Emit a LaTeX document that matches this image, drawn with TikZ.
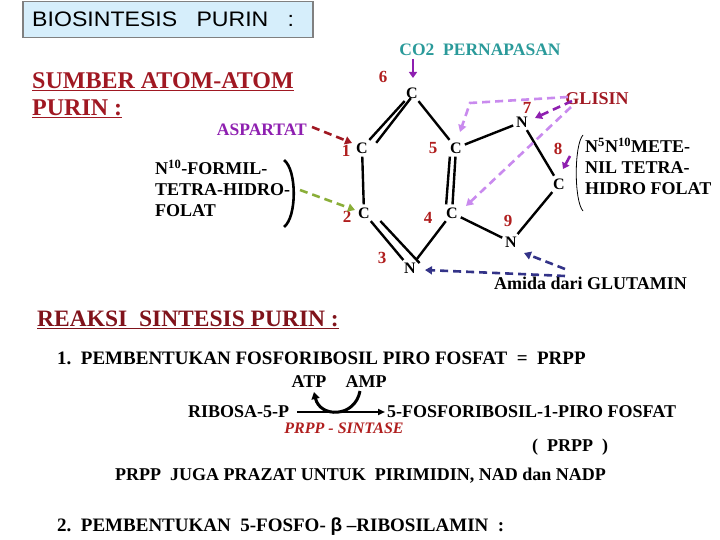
\documentclass[tikz,border=0pt]{standalone}
\usepackage{fontspec}
\setmainfont{Liberation Serif}
\newfontfamily\arialf{Liberation Sans}
\usetikzlibrary{arrows.meta}
\definecolor{dred}{HTML}{A01822}
\definecolor{numred}{HTML}{B01E1E}
\definecolor{purp}{HTML}{8E1FB0}
\definecolor{lvio}{HTML}{C98AEE}
\definecolor{teal2}{HTML}{2A9A9A}
\definecolor{navy2}{HTML}{333388}
\definecolor{grn}{HTML}{8AAE38}
\definecolor{boxblue}{HTML}{D6EEFB}
\tikzset{
 atom/.style={font=\bfseries\fontsize{16}{16}\selectfont, inner sep=1pt},
 num/.style={font=\bfseries\fontsize{17}{17}\selectfont, text=numred, inner sep=0pt},
 bond/.style={line width=2.4pt, shorten <=2pt, shorten >=2pt},
 darr/.style={line width=2.6pt, dash pattern=on 8pt off 5pt, -{Triangle[length=7pt,width=8pt]}},
 txt/.style={font=\bfseries\fontsize{18}{21}\selectfont, inner sep=0pt, align=left},
}
\begin{document}
\begin{tikzpicture}[x=1pt,y=-1pt]
\useasboundingbox (0,0) rectangle (720,540);
% title
\node[draw=gray, line width=1.5pt, fill=boxblue, minimum width=290pt, minimum height=36pt, anchor=north west, inner sep=0pt] (title) at (22,1) {};
\node[font=\arialf\fontsize{21}{21}\selectfont, anchor=west, inner sep=0pt, xscale=1.1] (titlet) at (32,19) {BIOSINTESIS\ \ \ PURIN\ \ \ :};
% left header
\node[font=\bfseries\fontsize{24}{27}\selectfont, text=dred, anchor=north west, align=left, inner sep=0pt] (sumber) at (32,72) {\underline{SUMBER ATOM-ATOM}\\\underline{PURIN :}};
% atoms
\node[atom] (c6) at (412,93) {C};
\node[atom] (c1) at (362,148) {C};
\node[atom] (c5) at (456,148) {C};
\node[atom] (c2) at (364,213) {C};
\node[atom] (c4) at (452,213) {C};
\node[atom] (n3) at (410,268) {N};
\node[atom] (n7) at (522,122) {N};
\node[atom] (c8) at (559,184) {C};
\node[atom] (n9) at (511,242) {N};
% bonds
\draw[bond] (c6) -- (c1);
\draw[bond] ([shift={(7pt,3pt)}]c6.south west) -- ([shift={(6pt,-3pt)}]c1.north east);
\draw[bond] (c1) -- (c2);
\draw[bond] (c2) -- (n3);
\draw[bond] ([shift={(8pt,0pt)}]c2.south east) -- ([shift={(4pt,-3pt)}]n3.north east);
\draw[bond] (n3) -- (c4);
\draw[bond] (c4) -- (c5);
\draw[bond] ([xshift=-6pt]c4.north) -- ([xshift=-6pt]c5.south);
\draw[bond] (c5) -- (c6);
\draw[bond] (c5) -- (n7);
\draw[bond] (n7) -- (c8);
\draw[bond] (c8) -- (n9);
\draw[bond] (n9) -- (c4);
% numbers
\node[num] (l6) at (383,77) {6};
\node[num] (l1) at (346,151) {1};
\node[num] (l5) at (433,148) {5};
\node[num] (l2) at (347,217) {2};
\node[num] (l4) at (428,218) {4};
\node[num] (l3) at (382,258) {3};
\node[num] (l7) at (527,108) {7};
\node[num] (l8) at (558,149) {8};
\node[num] (l9) at (508,221) {9};
% source labels
\node[font=\bfseries\fontsize{17.5}{17.5}\selectfont, text=teal2, inner sep=0pt] (co2) at (480,50) {CO2\ \ PERNAPASAN};
\node[font=\bfseries\fontsize{18}{18}\selectfont, text=dred, inner sep=0pt] (gly) at (597,99) {GLISIN};
\node[font=\bfseries\fontsize{17.5}{17.5}\selectfont, text=purp, anchor=east, inner sep=0pt] (asp) at (307,130) {ASPARTAT};
\node[txt, anchor=north west] (form) at (155,160) {N\textsuperscript{10}-FORMIL-\\TETRA-HIDRO-\\FOLAT};
\node[txt, anchor=north west] (mete) at (585,138) {N\textsuperscript{5}N\textsuperscript{10}METE-\\NIL TETRA-\\HIDRO FOLAT};
\node[txt, anchor=north west] (glut) at (494,277) {Amida dari GLUTAMIN};
% brackets
\coordinate (b1) at (284,160); \coordinate (b2) at (284,227);
\draw[line width=2.6pt] (b1) .. controls (297,170) and (297,217) .. (b2);
\coordinate (b3) at (583,135); \coordinate (b4) at (583,211);
\draw[line width=0.8pt] (b3) .. controls (574,145) and (574,201) .. (b4);
% arrows
\coordinate (a1) at (312,127); \coordinate (a2) at (352,143);
\draw[darr, dred] (a1) -- (a2);
\coordinate (g1) at (300,190); \coordinate (g2) at (355,210);
\draw[darr, grn] (g1) -- (g2);
\coordinate (co2b) at (413,59); \coordinate (co2e) at (413,78);
\draw[line width=2.6pt, purp, -{Triangle[length=6pt,width=8pt]}] (co2b) -- (co2e);
\coordinate (gl1) at (572,101); \coordinate (gl2) at (535,118);
\draw[darr, purp] (gl1) -- (gl2);
\coordinate (v1) at (568,97); \coordinate (v2) at (470,103); \coordinate (v3) at (460,132);
\draw[darr, lvio] (v1) -- (v2) -- (v3);
\coordinate (w1) at (571,107); \coordinate (w2) at (466,206);
\draw[darr, lvio] (w1) -- (w2);
\coordinate (m1) at (570,156); \coordinate (m2) at (563,169);
\draw[line width=2.6pt, purp, -{Triangle[length=6pt,width=8pt]}] (m1) -- (m2);
\coordinate (u1) at (565,269); \coordinate (u2) at (524,253);
\draw[darr, navy2] (u1) -- (u2);
\coordinate (u3) at (565,276); \coordinate (u4) at (425,270);
\draw[darr, navy2] (u3) .. controls (520,274) .. (u4);
% lower section
\node[font=\bfseries\fontsize{23.5}{23.5}\selectfont, text=dred!80!black, anchor=west, inner sep=0pt] (reaksi) at (37,320) {\underline{REAKSI\ \ SINTESIS PURIN :}};
\node[txt, anchor=west, font=\bfseries\fontsize{19}{19}\selectfont] (s1) at (57,358) {1.\ \ PEMBENTUKAN FOSFORIBOSIL PIRO FOSFAT\ \ =\ \ PRPP};
\node[txt, anchor=center] (atp) at (309,382) {ATP};
\node[txt, anchor=center] (amp) at (366,382) {AMP};
\node[txt, anchor=west] (rib) at (188,412) {RIBOSA-5-P};
\node[txt, anchor=west] (fos) at (387,412) {5-FOSFORIBOSIL-1-PIRO FOSFAT};
\draw[line width=2.4pt, -{Triangle[length=7pt,width=6pt]}] ([xshift=8pt]rib.east) -- ([xshift=-2pt]fos.west);
\draw[line width=3pt, -{Triangle[length=7pt,width=8pt]}] (360,391) .. controls (355,418) and (320,418) .. (314,392);
\node[font=\bfseries\itshape\fontsize{16}{16}\selectfont, text=numred, inner sep=0pt] (sint) at (344,428) {PRPP - SINTASE};
\node[txt] (prpp) at (570,447) {(\ \ PRPP\ \ )};
\node[txt, anchor=west] (juga) at (115,476) {PRPP\ \ JUGA PRAZAT UNTUK\ \ PIRIMIDIN, NAD dan NADP};
\node[txt, anchor=west, font=\bfseries\fontsize{19}{19}\selectfont] (s2) at (57,527) {2.\ \ PEMBENTUKAN\ \ 5-FOSFO- {\fontspec{Liberation Sans}β} –RIBOSILAMIN\ \ :};
\end{tikzpicture}
\end{document}
